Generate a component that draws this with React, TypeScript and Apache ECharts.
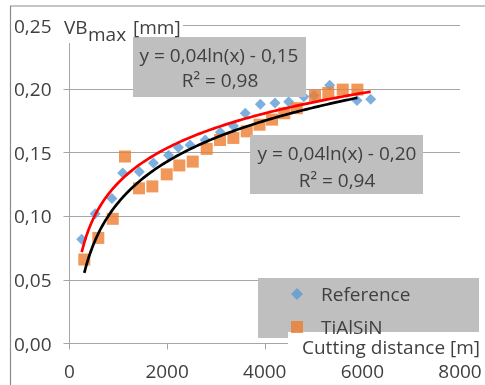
import React, { useEffect, useRef } from "react";
import * as echarts from "echarts";

// Cutting distance [m] and VBmax [mm] for each coating
const REF_X = [250, 525, 870, 1090, 1430, 1720, 2030, 2230, 2470, 2780, 3090, 3360, 3600, 3910, 4210, 4490, 4800, 5010, 5330, 5890, 6170];
const REF_Y = [0.082, 0.102, 0.114, 0.134, 0.135, 0.142, 0.148, 0.154, 0.156, 0.160, 0.166, 0.171, 0.181, 0.188, 0.189, 0.190, 0.194, 0.195, 0.203, 0.191, 0.192];

const TIAL_X = [303, 590, 885, 1137, 1424, 1697, 1992, 2250, 2525, 2811, 3084, 3357, 3631, 3893, 4150, 4400, 4656, 5030, 5303, 5598, 5898];
const TIAL_Y = [0.066, 0.083, 0.098, 0.147, 0.122, 0.1235, 0.133, 0.140, 0.143, 0.153, 0.160, 0.1616, 0.1668, 0.172, 0.176, 0.181, 0.185, 0.195, 0.197, 0.1996, 0.1996];

const SERIES_NAMES = ["Reference", "TiAlSiN"];
const X_TICKS = [0, 2000, 4000, 6000, 8000];
const Y_TICKS = [0, 0.05, 0.1, 0.15, 0.2, 0.25];
const LABEL_REF = ["y = 0,04ln(x) - 0,15", "R² = 0,98"];
const LABEL_TIAL = ["y = 0,04ln(x) - 0,20", "R² = 0,94"];

// Logarithmic least-squares trendline (as the spreadsheet does), sampled over the data range
function logTrend(xs: number[], ys: number[]): number[][] {
  const n = xs.length;
  let sl = 0, sy = 0, sly = 0, sll = 0;
  for (let i = 0; i < n; i++) {
    const l = Math.log(xs[i]);
    sl += l; sy += ys[i]; sly += l * ys[i]; sll += l * l;
  }
  const a = (n * sly - sl * sy) / (n * sll - sl * sl);
  const b = (sy - a * sl) / n;
  const lo = Math.min(...xs), hi = Math.max(...xs);
  const pts: number[][] = [];
  const steps = 120;
  for (let i = 0; i <= steps; i++) {
    const x = lo + ((hi - lo) * i) / steps;
    pts.push([x, a * Math.log(x) + b]);
  }
  return pts;
}

const FONT = "Open Sans";
const TXT = "#404040";
const GRID = "#a6a6a6";

export default function App() {
  const ref = useRef<HTMLDivElement>(null);
  useEffect(() => {
    if (!ref.current) return;
    const chart = echarts.init(ref.current, null, { renderer: "svg" });
    const refPts = REF_X.map((x, i) => [x, REF_Y[i]]);
    const tialPts = TIAL_X.map((x, i) => [x, TIAL_Y[i]]);
    const txt = (text: string, x: number, y: number, align = "left", z = 7) => ({
      type: "text",
      z,
      style: { text, x, y, fill: TXT, font: `19px '${FONT}'`, textAlign: align, textVerticalAlign: "middle" },
    });
    chart.setOption({
      animation: false,
      textStyle: { fontFamily: FONT },
      grid: { left: 69.5, right: 25, top: 25.5, bottom: 41.5 },
      xAxis: {
        type: "value",
        min: X_TICKS[0],
        max: X_TICKS[X_TICKS.length - 1],
        interval: X_TICKS[1] - X_TICKS[0],
        splitLine: { show: false },
        axisLine: { show: true, lineStyle: { color: GRID, width: 1 } },
        axisTick: { show: true, inside: false, length: 6, lineStyle: { color: GRID } },
        axisLabel: { color: TXT, fontSize: 19, fontFamily: FONT, margin: 18, formatter: (v: number) => String(v) },
      },
      yAxis: {
        type: "value",
        min: Y_TICKS[0],
        max: Y_TICKS[Y_TICKS.length - 1],
        interval: Y_TICKS[1] - Y_TICKS[0],
        splitLine: { show: true, lineStyle: { color: GRID, width: 1 } },
        axisLine: { show: true, lineStyle: { color: GRID, width: 1 } },
        axisTick: { show: true, inside: false, length: 6, lineStyle: { color: GRID } },
        axisLabel: {
          color: TXT,
          fontSize: 19,
          fontFamily: FONT,
          margin: 18,
          formatter: (v: number) => v.toFixed(2).replace(".", ","),
        },
      },
      legend: {
        data: SERIES_NAMES,
        orient: "vertical",
        left: 286,
        top: 279.5,
        padding: 5,
        itemGap: 14,
        itemWidth: 12,
        itemHeight: 12,
        z: 6,
        textStyle: { color: TXT, fontSize: 19, fontFamily: FONT, padding: [0, 0, 0, 13], lineHeight: 17 },
      },
      series: [
        {
          name: SERIES_NAMES[0],
          type: "scatter",
          symbol: "diamond",
          symbolSize: 11,
          itemStyle: { color: "#5b9bd5" },
          data: refPts,
          z: 2,
        },
        {
          name: SERIES_NAMES[1],
          type: "scatter",
          symbol: "rect",
          symbolSize: 12,
          itemStyle: { color: "#ed7d31" },
          data: tialPts,
          z: 2,
        },
        {
          name: "TiAlSiN trend",
          type: "line",
          showSymbol: false,
          smooth: false,
          lineStyle: { color: "#000000", width: 2.7 },
          data: logTrend(TIAL_X, TIAL_Y),
          z: 3,
        },
        {
          name: "Reference trend",
          type: "line",
          showSymbol: false,
          smooth: false,
          lineStyle: { color: "#ff0000", width: 2.7 },
          data: logTrend(REF_X, REF_Y),
          z: 3,
        },
      ],
      graphic: [
        { type: "rect", z: 1, shape: { x: 10.5, y: 6, width: 490, height: 400 }, style: { fill: "none", stroke: "#8c8c8c", lineWidth: 1.2 } },
        // y-axis title
        { type: "rect", z: 4, shape: { x: 56, y: 9, width: 127, height: 34 }, style: { fill: "#ffffff" } },
        txt("VB", 64, 27),
        txt("max", 88, 34),
        txt("[mm]", 133, 27),
        // trendline labels
        { type: "rect", z: 5, shape: { x: 133, y: 37, width: 173, height: 60 }, style: { fill: "#bfbfbf" } },
        txt(LABEL_REF[0], 219, 55, "center"),
        txt(LABEL_REF[1], 220, 80, "center"),
        { type: "rect", z: 5, shape: { x: 250, y: 135, width: 173, height: 59 }, style: { fill: "#bfbfbf" } },
        txt(LABEL_TIAL[0], 337, 153, "center"),
        txt(LABEL_TIAL[1], 337, 180, "center"),
        // legend background
        { type: "rect", z: 3, shape: { x: 258, y: 278, width: 221, height: 60 }, style: { fill: "#bfbfbf" } },
        // x-axis title
        { type: "rect", z: 4, shape: { x: 288, y: 332, width: 200, height: 28 }, style: { fill: "#ffffff" } },
        txt("Cutting distance [m]", 302, 347),
      ],
    });
    return () => chart.dispose();
  }, []);
  return <div ref={ref} style={{ position: "fixed", left: 0, top: 0, width: 485, height: 385 }} />;
}
